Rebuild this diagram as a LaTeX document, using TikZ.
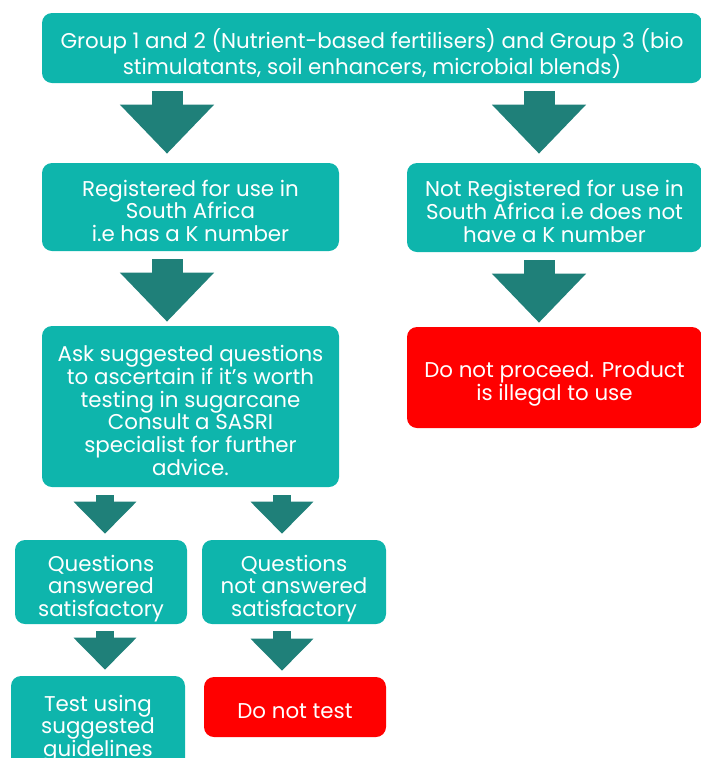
\documentclass[tikz,border=0pt]{standalone}
\usepackage{fontspec}
\setmainfont{Poppins}
\usepackage{xcolor}
\usepackage{tikz}
\usetikzlibrary{arrows.meta, positioning, calc}
\newdimen\pxu \pxu=0.025cm
\definecolor{boxteal}{RGB}{14,181,172}
\definecolor{arrowteal}{RGB}{31,128,121}
\definecolor{stopred}{RGB}{255,0,0}
% text lines sit a little below the middle of the boxes
\newcommand{\boxtext}[1]{\raisebox{-7\pxu}[\height][\depth]{\begin{tabular}{@{}c@{}}#1\end{tabular}}}
\tikzset{
  box/.style  = {rectangle, fill=boxteal, text=white, inner sep=0pt,
                 rounded corners=10\pxu, font=\fontsize{15.2}{15.5}\selectfont},
  boxR/.style = {box, fill=stopred},
  bigarrow/.style   = {arrowteal, line width=31\pxu, -{Triangle[width=2.275cm, length=1.225cm]},
                       shorten <=8\pxu, shorten >=9\pxu},
  smallarrow/.style = {arrowteal, line width=18\pxu, -{Triangle[width=1.525cm, length=0.8cm]},
                       shorten <=8\pxu, shorten >=6\pxu},
}

\begin{document}
\begin{tikzpicture}[x=0.025cm, y=-0.025cm]

    \useasboundingbox (0,0) rectangle (701,758);

    %% Columns of the block arrows
    \coordinate (c1) at (167,0);
    \coordinate (c2) at (539,0);
    \coordinate (c3) at (105,0);
    \coordinate (c4) at (282,0);

    %% Boxes
    \node[box, minimum width=660\pxu, minimum height=70\pxu] (grp) at (372,48)
      {\boxtext{Group 1 and 2 (Nutrient-based fertilisers) and Group 3 (bio\\stimulatants, soil enhancers, microbial blends)}};
    \node[box, minimum width=297\pxu, minimum height=88\pxu] (reg) at (190.5,207)
      {\boxtext{Registered for use in\\South Africa\\i.e has a K number}};
    \node[box, minimum width=295\pxu, minimum height=89\pxu] (notreg) at (554.5,207.5)
      {\boxtext{Not Registered for use in\\South Africa i.e does not\\have a K number}};
    \node[box, minimum width=297\pxu, minimum height=161\pxu] (ask) at (190.5,406.5)
      {\boxtext{Ask suggested questions\\to ascertain if it’s worth\\testing in sugarcane\\Consult a SASRI\\specialist for further\\advice.}};
    \node[boxR, minimum width=295\pxu, minimum height=101\pxu] (stop) at (554.5,377.5)
      {\boxtext{Do not proceed. Product\\is illegal to use}};
    \node[box, minimum width=172\pxu, minimum height=84\pxu] (qyes) at (101,582)
      {\boxtext{Questions\\answered\\satisfactory}};
    \node[box, minimum width=184\pxu, minimum height=84\pxu] (qno) at (294,582)
      {\boxtext{Questions\\not answered\\satisfactory}};
    \node[box, minimum width=174\pxu, minimum height=92\pxu] (test) at (98,722)
      {\boxtext{Test using\\suggested\\guidelines}};
    \node[boxR, minimum width=182\pxu, minimum height=60\pxu] (notest) at (295,707)
      {\boxtext{Do not test}};

    %% Arrows
    \draw[bigarrow] (grp.south -| c1) -- (reg.north -| c1);
    \draw[bigarrow] (grp.south -| c2) -- (notreg.north -| c2);
    \draw[bigarrow, shorten >=4\pxu] (reg.south -| c1) -- (ask.north -| c1);
    \draw[bigarrow, shorten >=4\pxu] (notreg.south -| c2) -- (stop.north -| c2);
    \draw[smallarrow] (ask.south -| c3) -- (qyes.north -| c3);
    \draw[smallarrow] (ask.south -| c4) -- (qno.north -| c4);
    \draw[smallarrow, shorten <=7\pxu] (qyes.south -| c3) -- (test.north -| c3);
    \draw[smallarrow, shorten <=7\pxu] (qno.south -| c4) -- (notest.north -| c4);

\end{tikzpicture}
\end{document}
